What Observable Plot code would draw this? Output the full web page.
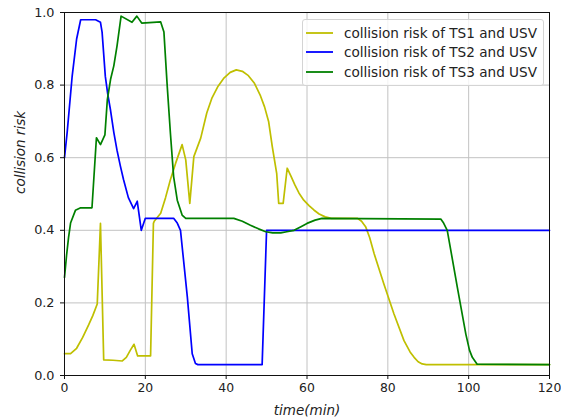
<!DOCTYPE html>
<html>
<head>
<meta charset="utf-8">
<script src="https://cdn.jsdelivr.net/npm/d3@7"></script>
<script src="https://cdn.jsdelivr.net/npm/@observablehq/plot@0.6"></script>
<style>
  body { margin: 0; background: #fff; }
  #wrap { position: relative; width: 561px; height: 418px; font-family: "DejaVu Sans", sans-serif; }
  #legend { position: absolute; left: 302px; top: 19px; width: 240px; padding: 3px 0; border: 1px solid #d4d4d4; border-radius: 3px; background: rgba(255,255,255,0.8); }
  .row { display: flex; align-items: center; height: 19.6px; font-size: 13.6px; color: #222; white-space: nowrap; }
  .row svg { margin-left: 3px; margin-right: 11px; }
</style>
</head>
<body>
<div id="wrap">
  <div id="chart"></div>
  <div id="legend"></div>
</div>
<script>
// ---- data ----
const seriesNames = ["collision risk of TS1 and USV", "collision risk of TS2 and USV", "collision risk of TS3 and USV"];
const seriesColors = ["#bfbf00", "#0000ff", "#008000"];

const ts1Time = [0, 1.5, 3, 4.5, 6, 7, 8.1, 8.9, 9.7, 12, 14.3, 15.3, 16.3, 17.2, 18.1, 21.3, 22.0, 22.2, 23.8, 25, 26.2, 27.5, 29.1, 30, 31, 32, 33.7, 35.2, 36.5, 38, 39.5, 41, 42.5, 44, 45.5, 47, 48.5, 49.5, 50.5, 51.4, 52.5, 53, 54.1, 55.1, 56, 57, 58, 59.2, 60.5, 61.7, 63, 64.5, 66, 72.5, 73.5, 74.5, 75.5, 76.6, 79, 81.5, 84, 85.5, 86.5, 87.5, 88.5, 89.5, 120];
const ts1Risk = [0.06, 0.06, 0.075, 0.105, 0.14, 0.165, 0.197, 0.419, 0.043, 0.042, 0.04, 0.05, 0.07, 0.086, 0.054, 0.054, 0.419, 0.425, 0.447, 0.49, 0.539, 0.585, 0.636, 0.594, 0.474, 0.603, 0.654, 0.723, 0.765, 0.797, 0.82, 0.835, 0.842, 0.838, 0.826, 0.805, 0.77, 0.74, 0.70, 0.631, 0.557, 0.474, 0.474, 0.571, 0.55, 0.525, 0.503, 0.483, 0.468, 0.456, 0.445, 0.437, 0.433, 0.433, 0.425, 0.41, 0.38, 0.336, 0.253, 0.17, 0.096, 0.065, 0.05, 0.038, 0.032, 0.03, 0.03];

const ts2Time = [0, 0.66, 1.9, 3, 4, 7.7, 8.9, 9.3, 10.1, 10.7, 11.4, 12.2, 13, 13.8, 14.6, 15.8, 17.1, 18, 19, 20, 27, 27.9, 28.7, 30.4, 31.6, 32.4, 33, 48.9, 50, 120];
const ts2Risk = [0.6, 0.67, 0.825, 0.927, 0.98, 0.98, 0.973, 0.946, 0.824, 0.775, 0.73, 0.67, 0.62, 0.578, 0.54, 0.49, 0.46, 0.48, 0.40, 0.433, 0.433, 0.42, 0.40, 0.215, 0.06, 0.033, 0.03, 0.03, 0.40, 0.40];

const ts3Time = [0, 0.5, 1, 1.5, 2.7, 4, 6.8, 7.9, 8.9, 10, 10.6, 11.4, 12.2, 13, 14, 16.7, 17.9, 19.1, 23.8, 24.6, 25.4, 26.2, 27, 27.9, 29.1, 30, 41.9, 44, 46, 48, 49.8, 51.5, 53.5, 55, 56.8, 58.5, 60, 62, 63.7, 93.1, 93.8, 94.7, 97.2, 99.3, 100.2, 100.9, 102.1, 120];
const ts3Risk = [0.27, 0.33, 0.38, 0.42, 0.455, 0.462, 0.462, 0.655, 0.636, 0.663, 0.76, 0.816, 0.853, 0.908, 0.99, 0.973, 0.99, 0.971, 0.974, 0.946, 0.80, 0.668, 0.548, 0.483, 0.442, 0.433, 0.433, 0.425, 0.414, 0.404, 0.396, 0.393, 0.393, 0.396, 0.40, 0.41, 0.419, 0.428, 0.433, 0.431, 0.42, 0.40, 0.243, 0.114, 0.07, 0.05, 0.031, 0.03];

const xTicks = [0, 20, 40, 60, 80, 100, 120];
const yTicks = [0.0, 0.2, 0.4, 0.6, 0.8, 1.0];
const xLabel = "time(min)";
const yLabel = "collision risk";

const toRows = (ts, rs) => ts.map((t, i) => ({t, r: rs[i]}));
const series = [toRows(ts1Time, ts1Risk), toRows(ts2Time, ts2Risk), toRows(ts3Time, ts3Risk)];

const chart = Plot.plot({
  width: 561,
  height: 418,
  marginLeft: 64,
  marginRight: 12,
  marginTop: 12,
  marginBottom: 43,
  style: {fontFamily: "DejaVu Sans", fontSize: "12.5px", color: "#222", background: "white"},
  x: {domain: [0, 120]},
  y: {domain: [0, 1]},
  marks: [
    Plot.gridX(xTicks, {stroke: "#c2c2c2", strokeOpacity: 1, strokeWidth: 1}),
    Plot.gridY(yTicks, {stroke: "#c2c2c2", strokeOpacity: 1, strokeWidth: 1}),
    ...series.map((d, i) => Plot.line(d, {x: "t", y: "r", stroke: seriesColors[i], strokeWidth: 1.7})),
    Plot.frame({stroke: "#111", strokeWidth: 1}),
    Plot.axisX(xTicks, {tickSize: 4, tickPadding: 4, label: null, fontSize: 12.4, stroke: "#111"}),
    Plot.axisY(yTicks, {tickSize: 4, tickPadding: 6, label: null, tickFormat: d3.format(".1f"), fontSize: 12.8, stroke: "#111"}),
    Plot.text([xLabel], {frameAnchor: "bottom", dy: 35, lineAnchor: "middle", fontStyle: "italic", fontSize: 13.5, fill: "#222"}),
    Plot.text([yLabel], {frameAnchor: "left", dx: -44, rotate: -90, lineAnchor: "middle", fontStyle: "italic", fontSize: 13.5, fill: "#222"})
  ]
});
document.getElementById("chart").appendChild(chart);

const legend = document.getElementById("legend");
seriesNames.forEach((name, i) => {
  const row = document.createElement("div");
  row.className = "row";
  row.innerHTML = `<svg width="27" height="10"><line x1="0" x2="27" y1="5" y2="5" stroke="${seriesColors[i]}" stroke-width="1.8"/></svg><span></span>`;
  row.querySelector("span").textContent = name;
  legend.appendChild(row);
});
</script>
</body>
</html>
